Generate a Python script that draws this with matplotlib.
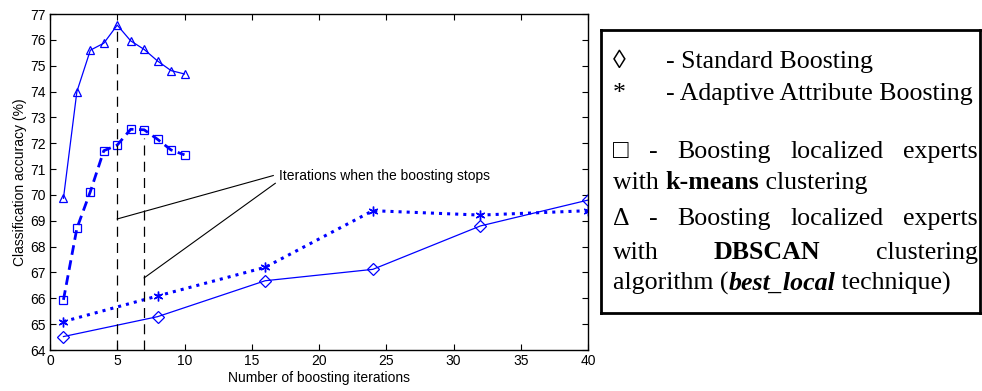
import numpy as np
import matplotlib.pyplot as plt

# data
iters_local = [1, 2, 3, 4, 5, 6, 7, 8, 9, 10]
dbscan_acc = [69.87, 74.0, 75.6, 75.87, 76.57, 75.96, 75.63, 75.18, 74.81, 74.68]
kmeans_acc = [65.94, 68.71, 70.13, 71.71, 71.93, 72.54, 72.52, 72.15, 71.74, 71.55]
iters_global = [1, 8, 16, 24, 32, 40]
standard_acc = [64.52, 65.29, 66.68, 67.12, 68.8, 69.8]
adaptive_acc = [65.1, 66.09, 67.2, 69.39, 69.22, 69.39]
stop_iters = [5, 7]
stop_tops = [76.57, 72.2]
stop_arrow_y = [69.07, 66.79]
note_text = 'Iterations when the boosting stops'
note_xy = (16.75, 70.73)
note_tips = [(16.6, 70.75), (16.75, 70.45)]

plt.rcParams['font.family'] = ['Liberation Sans', 'DejaVu Sans']
fig = plt.figure(figsize=(9.82, 3.91), dpi=100)
ax = fig.add_axes([50 / 982, 41 / 391, 538 / 982, 336 / 391])

blue = '#0000ff'
ax.plot(iters_local, dbscan_acc, '-', color=blue, lw=0.9, marker='^',
        ms=6, mfc='none', mec=blue, mew=0.9)
ax.plot(iters_local, kmeans_acc, '--', color=blue, lw=2.0, dashes=(3.5, 2), marker='s',
        ms=5.5, mfc='none', mec=blue, mew=0.9)
ax.plot(iters_global, standard_acc, '-', color=blue, lw=0.9, marker='D',
        ms=6.5, mfc='none', mec=blue, mew=0.9)
ax.plot(iters_global, adaptive_acc, ':', color=blue, lw=2.2, marker=(6, 2, 0),
        ms=7, mec=blue, mew=1.0)

for xs, top in zip(stop_iters, stop_tops):
    ax.plot([xs, xs], [64, top], color='black', lw=0.9, dashes=(8, 5))
for xs, ys, tip in zip(stop_iters, stop_arrow_y, note_tips):
    ax.plot([xs, tip[0]], [ys, tip[1]], color='black', lw=0.8)
ax.text(note_xy[0] + 0.3, note_xy[1], note_text, fontsize=10, va='center', ha='left')

ax.set_xlim(0, 40)
ax.set_ylim(64, 77)
ax.set_xticks(np.arange(0, 41, 5))
ax.set_yticks(np.arange(64, 78, 1))
ax.tick_params(direction='in', top=True, right=True, length=4, width=0.8,
               labelsize=10, pad=3)
for s in ax.spines.values():
    s.set_linewidth(1.0)
ax.set_xlabel('Number of boosting iterations', fontsize=10, labelpad=2)
ax.set_ylabel('Classification accuracy (%)', fontsize=10, labelpad=2)

# legend box drawn as text in a separate axes, pixel units
bx0, by0, bx1, by1 = 601, 30, 980, 313
lg = fig.add_axes([bx0 / 982, (391 - by1) / 391, (bx1 - bx0) / 982, (by1 - by0) / 391])
W, H = bx1 - bx0, by1 - by0
lg.set_xlim(0, W)
lg.set_ylim(H, 0)
lg.set_xticks([])
lg.set_yticks([])
for s in lg.spines.values():
    s.set_linewidth(2.0)

serif = ['Liberation Serif', 'DejaVu Serif']
fs = 18.6
renderer = fig.canvas.get_renderer()


def word(x, y, s, **kw):
    t = lg.text(x, y, s, fontsize=fs, family=serif, va='baseline', ha='left', **kw)
    return t


def width(t):
    bb = t.get_window_extent(renderer)
    return bb.width


def justify(y, parts, x0=12, x1=377):
    ts = [word(0, y, s, **kw) for s, kw in parts]
    ws = [width(t) for t in ts]
    gap = (x1 - x0 - sum(ws)) / (len(ts) - 1)
    x = x0
    for t, w in zip(ts, ws):
        t.set_x(x)
        x += w + gap


def chain(y, parts, x0=12):
    x = x0
    for s, kw in parts:
        t = word(x, y, s, **kw)
        x += width(t)


word(12, 38, '\u25ca')
word(65, 38, '- Standard Boosting')
word(12, 70, '*')
word(65, 70, '- Adaptive Attribute Boosting')

justify(128, [('\u25a1', {}), ('-', {}), ('Boosting', {}), ('localized', {}), ('experts', {})])
chain(159, [('with ', {}), ('k-means', {'fontweight': 'bold'}), (' clustering', {})])
justify(195, [('\u0394', {}), ('-', {}), ('Boosting', {}), ('localized', {}), ('experts', {})])
justify(229, [('with', {}), ('DBSCAN', {'fontweight': 'bold'}), ('clustering', {})])
chain(260, [('algorithm (', {}), ('best_local', {'fontweight': 'bold', 'style': 'italic'}),
            (' technique)', {})])

fig.savefig('out.png', dpi=100)
